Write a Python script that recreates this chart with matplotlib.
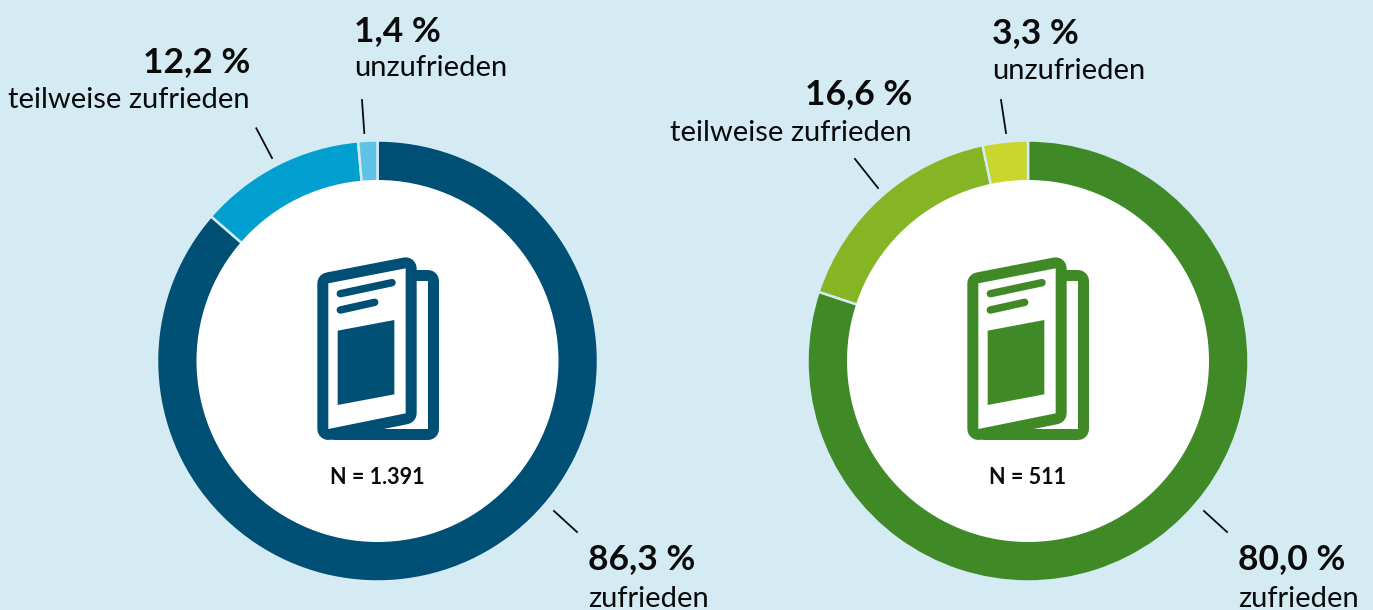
import matplotlib
matplotlib.use('Agg')
import matplotlib.pyplot as plt
from matplotlib.patches import Polygon, Circle

# werte aus dem bild
kategorien = ['zufrieden', 'teilweise zufrieden', 'unzufrieden']
werte_links = [86.3, 12.2, 1.4]
werte_rechts = [80.0, 16.6, 3.3]
n_links = 'N = 1.391'
n_rechts = 'N = 511'
farben_links = ['#004f74', '#009fcf', '#5fc3e4']
farben_rechts = ['#3f8a27', '#85b524', '#c8d62e']

BG = '#d4ebf4'
W, H = 1373, 610
R = 220.5
plt.rcParams['font.family'] = ['Lato', 'DejaVu Sans']


def fmt(v):
    return f'{v:.1f}'.replace('.', ',') + ' %'


def donut(fig, cx, cy, werte, farben):
    # achse in pixeln, etwas groesser wegen der kante
    r = R * 1.02
    ax = fig.add_axes([(cx - r)/W, 1 - (cy + r)/H, 2*r/W, 2*r/H])
    ax.pie(werte, colors=farben, startangle=90, counterclock=False, radius=1.0,
           wedgeprops=dict(width=0.25, edgecolor=BG, linewidth=1.8))
    ax.set_xlim(-1.02, 1.02)
    ax.set_ylim(-1.02, 1.02)
    ax.axis('off')


def buch(ax, x0, y0, farbe):
    # koordinaten aus dem 3x zoom, innenflaechen mit dickem runden rand
    def p(pts):
        return [(x0 + a/3, y0 + b/3) for a, b in pts]
    lw = 22*0.72
    hinten = p([(300, 122), (443, 122), (443, 568), (165, 568), (165, 400)])
    vorne = p([(145, 130), (377, 85), (377, 520), (145, 567)])
    z = 3
    for flaeche in (hinten, vorne):
        ax.add_patch(Polygon(flaeche, closed=True, fc=farbe, ec=farbe, lw=lw, joinstyle='round', zorder=z))
        ax.add_patch(Polygon(flaeche, closed=True, fc='white', ec='none', zorder=z + 1))
        z += 2
    ax.add_patch(Polygon(p([(173, 272), (343, 240), (343, 463), (173, 495)]), closed=True,
                         fc=farbe, ec='none', zorder=8))
    for pts in ([(181, 161), (336, 128)], [(181, 210), (284, 187)]):
        q = p(pts)
        ax.plot([q[0][0], q[1][0]], [q[0][1], q[1][1]], color=farbe, lw=7.5*0.72,
                solid_capstyle='round', zorder=8)


fig = plt.figure(figsize=(W/100, H/100), dpi=100, facecolor=BG)

donut(fig, 377.5, 361, werte_links, farben_links)
donut(fig, 1028, 361, werte_rechts, farben_rechts)

ov = fig.add_axes([0, 0, 1, 1], facecolor='none')
ov.set_xlim(0, W)
ov.set_ylim(H, 0)
ov.axis('off')

ov.add_patch(Circle((377.5, 361), 181, fc='white', ec='none', zorder=2))
ov.add_patch(Circle((1028, 361), 181, fc='white', ec='none', zorder=2))

buch(ov, 280, 240, farben_links[0])
buch(ov, 930, 240, farben_rechts[0])

ov.text(377.5, 484, n_links, ha='center', va='baseline', fontsize=15.5, fontweight='bold', color='#0a0a0a')
ov.text(1028, 484, n_rechts, ha='center', va='baseline', fontsize=15.5, fontweight='bold', color='#0a0a0a')


def label(x, y1, y2, wert, name, ha='left'):
    ov.text(x, y1, fmt(wert), ha=ha, va='baseline', fontsize=25.5, fontweight='bold', color='#0a0a0a')
    ov.text(x, y2, name, ha=ha, va='baseline', fontsize=21, color='#0a0a0a')


label(354, 41, 76, werte_links[2], kategorien[2])
label(250, 72, 108, werte_links[1], kategorien[1], 'right')
label(588, 569, 607, werte_links[0], kategorien[0])
label(992, 43, 79, werte_rechts[2], kategorien[2])
label(912, 104, 141, werte_rechts[1], kategorien[1], 'right')
label(1238, 569, 607, werte_rechts[0], kategorien[0])

linien = [((362, 100), (364.3, 133)), ((256.3, 128.3), (272, 158)), ((554, 511), (577, 532)),
          ((1001, 100), (1006, 133)), ((855, 159), (878, 188)), ((1204, 511), (1227, 532))]
for a, b in linien:
    ov.plot([a[0], b[0]], [a[1], b[1]], color='#0a0a0a', lw=1.3)

fig.savefig('out.png', dpi=100, facecolor=BG)
